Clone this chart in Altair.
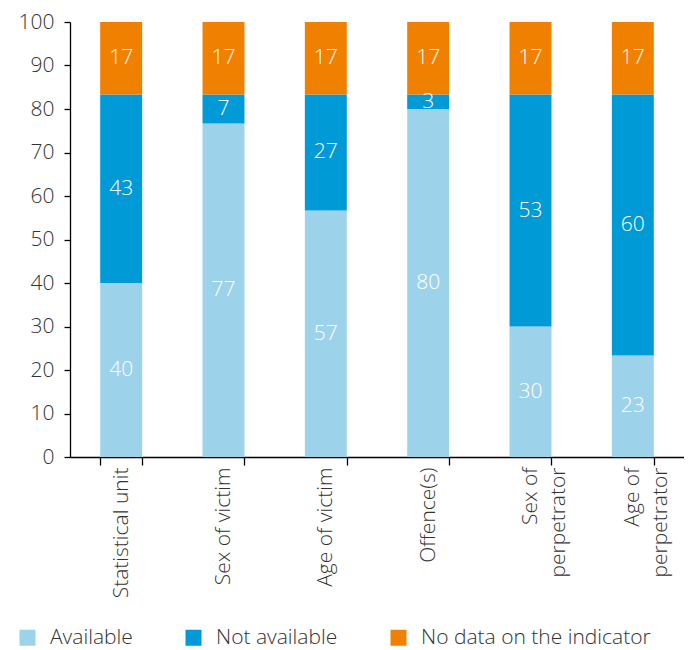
import altair as alt
import pandas as pd

categories = ["Statistical unit", "Sex of victim", "Age of victim", "Offence(s)",
              "Sex of perpetrator", "Age of perpetrator"]
series = ["Available", "Not available", "No data on the indicator"]
available = [40.0, 76.67, 56.67, 80.0, 30.0, 23.33]
not_available = [43.33, 6.67, 26.67, 3.33, 53.33, 60.0]
no_data = [16.67, 16.67, 16.67, 16.67, 16.67, 16.67]
colors = ["#9dd3ea", "#009ad7", "#f08100"]
y_ticks = list(range(0, 101, 10))

rows = []
for i, c in enumerate(categories):
    for k, (s, vals) in enumerate(zip(series, [available, not_available, no_data])):
        rows.append({"category": c, "series": s, "value": vals[i], "order": k})
df = pd.DataFrame(rows)

FONT = "Open Sans"
FW = 300
FS = 21
W = 614
H = 435

base = alt.Chart(df).transform_stack(
    stack="value", groupby=["category"], as_=["y0", "y1"],
    sort=[alt.SortField("order", order="ascending")]
).transform_calculate(mid="(datum.y0 + datum.y1) / 2")

xenc = alt.X("category:N", sort=categories, title=None,
             scale=alt.Scale(paddingInner=0.59, paddingOuter=0.295),
             axis=alt.Axis(labelAngle=270, labelAlign="right", labelBaseline="middle",
                           labelFontSize=FS, labelFont=FONT, labelFontWeight=FW,
                           labelColor="#333333", labelPadding=2, labelLineHeight=28,
                           labelExpr="indexof(datum.label, ' perpetrator') > 0 ? [replace(datum.label, ' perpetrator', ''), 'perpetrator'] : datum.label",
                           tickBand="extent", tickSize=8, tickColor="#000000",
                           domainColor="#000000", tickWidth=1.3, domainWidth=1.3,
                           grid=False))

bars = base.mark_bar().encode(
    x=xenc,
    y=alt.Y("y0:Q", scale=alt.Scale(domain=[0, 100], nice=False), title=None,
            axis=alt.Axis(values=y_ticks, labelFontSize=FS, labelFont=FONT,
                          labelFontWeight=FW, labelColor="#333333", labelPadding=10,
                          tickSize=6, tickColor="#000000", domainColor="#000000",
                          tickWidth=1.3, domainWidth=1.3, grid=False)),
    y2="y1:Q",
    color=alt.Color("series:N", sort=series,
                    scale=alt.Scale(domain=series, range=colors),
                    legend=alt.Legend(title=None, orient="none", direction="horizontal",
                                      legendX=-53, legendY=605,
                                      symbolType="square", symbolSize=256,
                                      symbolStrokeWidth=0, labelFontSize=FS,
                                      labelFont=FONT, labelFontWeight=FW,
                                      labelColor="#333333", labelOffset=12,
                                      labelLimit=400, columnPadding=50)),
    order=alt.Order("order:Q"),
)

labels = base.mark_text(color="white", fontSize=FS, font=FONT, fontWeight=FW,
                        baseline="middle", align="center").encode(
    x=alt.X("category:N", sort=categories),
    y=alt.Y("mid:Q"),
    text=alt.Text("value:Q", format=".0f"),
)

chart = alt.layer(bars, labels).properties(
    width=W, height=H,
    autosize=alt.AutoSizeParams(type="none"),
    padding={"left": 62, "top": 14, "right": 0, "bottom": 200},
).configure_view(stroke=None)

chart.save("out.html", embed_options={"renderer": "svg", "actions": False})
